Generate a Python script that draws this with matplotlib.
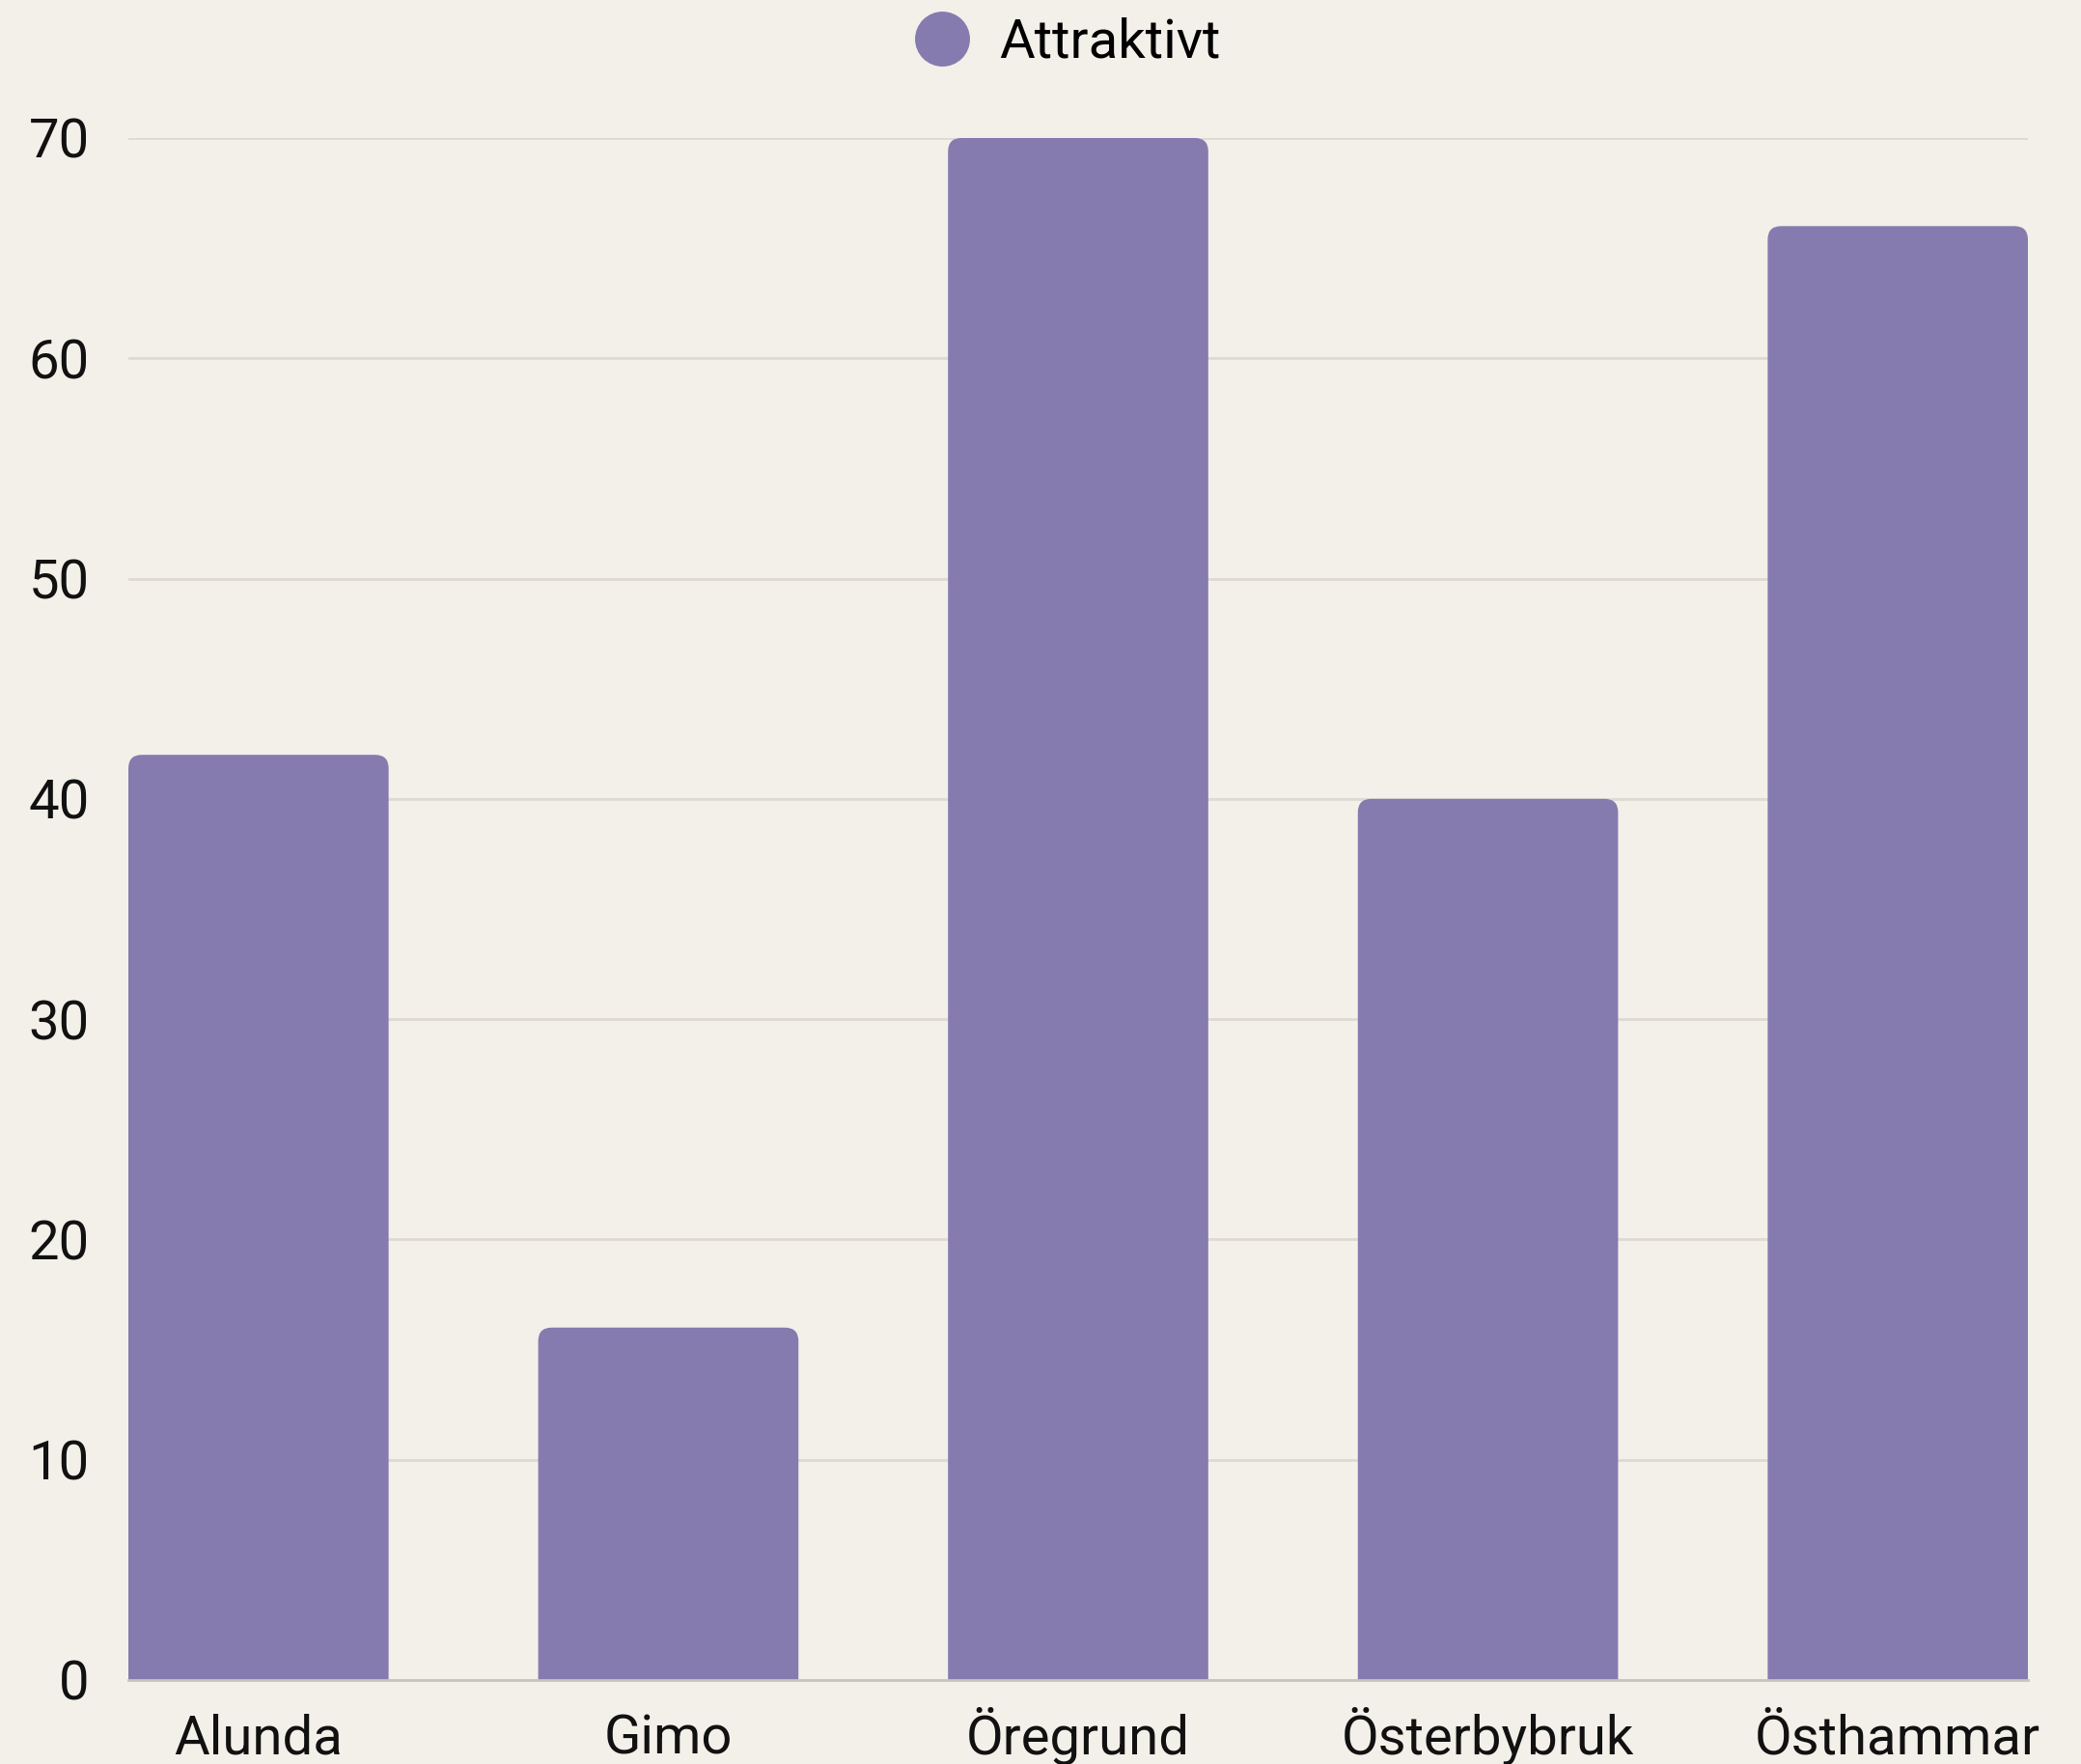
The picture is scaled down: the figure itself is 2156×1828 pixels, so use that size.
import matplotlib
matplotlib.use("Agg")
import matplotlib.pyplot as plt
from matplotlib.patches import FancyBboxPatch
from matplotlib.lines import Line2D

categories = ["Alunda", "Gimo", "Öregrund", "Österbybruk", "Östhammar"]
values = [42, 16, 70, 40, 66]
series_name = "Attraktivt"
yticks = [0, 10, 20, 30, 40, 50, 60, 70]

bg = "#F3F0E9"
bar_color = "#867BAF"
grid_color = "#DEDAD3"

plt.rcParams['font.family'] = ['Roboto', 'DejaVu Sans']

fig = plt.figure(figsize=(21.56, 18.28), dpi=100, facecolor=bg)
ax = fig.add_axes([133/2156, 87/1828, (2101-133)/2156, (1741-143)/1828])
ax.set_facecolor(bg)

width = 0.635
x = list(range(len(categories)))
bars = ax.bar(x, values, width=width, color=bar_color, zorder=3)

ax.set_xlim(-width/2, len(categories) - 1 + width/2)
ax.set_ylim(0, 70)

# rounded top corners (bottom corners pushed below the axis and clipped)
fig.canvas.draw()
px_per_x = ax.transData.transform((1, 0))[0] - ax.transData.transform((0, 0))[0]
px_per_y = ax.transData.transform((0, 1))[1] - ax.transData.transform((0, 0))[1]
r_px = 14
rx = r_px / px_per_x
ry = r_px / px_per_y
aspect = ry / rx
for b in bars:
    bx, by, bw, bh = b.get_x(), b.get_y(), b.get_width(), b.get_height()
    b.set_visible(False)
    rnd = FancyBboxPatch((bx, by - 3 * ry), bw, bh + 3 * ry,
                         boxstyle=f"round,pad=0,rounding_size={rx}",
                         mutation_aspect=aspect, facecolor=bar_color,
                         edgecolor="none", zorder=3)
    ax.add_patch(rnd)
    rnd.set_clip_path(ax.patch)

ax.set_yticks(yticks)
ax.set_yticklabels([str(t) for t in yticks])
ax.set_xticks(x)
ax.set_xticklabels(categories, va='baseline')
ax.tick_params(axis='both', length=0, labelsize=40.5, colors="#111111")
ax.tick_params(axis='y', pad=29)
ax.tick_params(axis='x', pad=55)

ax.grid(axis='y', color=grid_color, linewidth=2, zorder=1)
ax.grid(axis='x', visible=False)
for s in ["top", "right", "left"]:
    ax.spines[s].set_visible(False)
ax.spines["bottom"].set_color("#C9C5BE")
ax.spines["bottom"].set_linewidth(2)
ax.spines["bottom"].set_zorder(4)

handle = Line2D([], [], marker='o', linestyle='none', markersize=41,
                markerfacecolor=bar_color, markeredgecolor='none')
fig.legend([handle], [series_name], loc='center', bbox_to_anchor=(1106/2156, 1 - 44/1828),
           frameon=False, fontsize=40.5, handletextpad=0.55, borderaxespad=0,
           handlelength=1.0)

fig.savefig("out.png", dpi=100, facecolor=bg)
